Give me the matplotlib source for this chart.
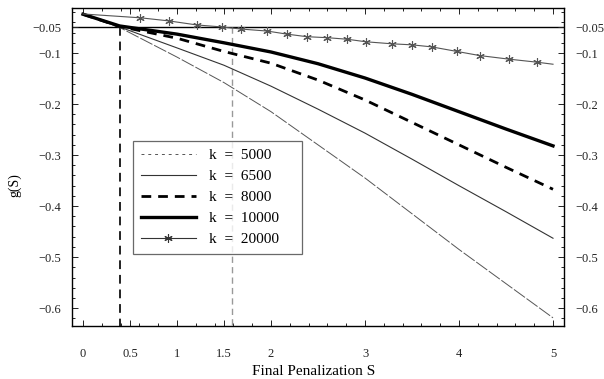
import matplotlib
matplotlib.use("Agg")
import matplotlib.pyplot as plt
from matplotlib.lines import Line2D
from matplotlib.ticker import MultipleLocator, FixedLocator

plt.rcParams['font.family'] = ['Liberation Serif', 'DejaVu Serif']

# data
S = [0, 0.39, 1, 1.5, 2, 2.5, 3, 3.5, 4, 4.5, 5]
g_5000 = [-0.024, -0.050, -0.108, -0.158, -0.215, -0.280, -0.345, -0.415, -0.485, -0.552, -0.619]
g_6500 = [-0.024, -0.049, -0.090, -0.124, -0.165, -0.210, -0.257, -0.308, -0.360, -0.411, -0.463]
g_8000 = [-0.024, -0.048, -0.071, -0.097, -0.120, -0.153, -0.192, -0.236, -0.280, -0.324, -0.367]
g_10000 = [-0.024, -0.047, -0.063, -0.080, -0.098, -0.121, -0.149, -0.181, -0.215, -0.249, -0.282]

S_20000 = [0, 0.61, 0.91, 1.21, 1.48, 1.68, 1.96, 2.17, 2.38, 2.60, 2.81, 3.01,
           3.29, 3.50, 3.71, 3.98, 4.22, 4.53, 4.83, 5.0]
g_20000 = [-0.0235, -0.031, -0.037, -0.045, -0.049, -0.053, -0.057, -0.063, -0.068, -0.070,
           -0.073, -0.078, -0.082, -0.084, -0.088, -0.097, -0.105, -0.112, -0.118, -0.122]

threshold = -0.05
s_low, s_high = 0.39, 1.58
labels = ["k  =  5000", "k  =  6500", "k  =  8000", "k  =  10000", "k  =  20000"]

fig = plt.figure(figsize=(6.04, 3.79), dpi=100)
ax = fig.add_axes([72 / 604, 53 / 379, 492 / 604, 318 / 379])

ax.axhline(threshold, color='black', lw=1.0, zorder=1)
ax.plot([s_low, s_low], [threshold, -0.7], color='#222222', lw=1.4, dashes=(4.5, 3))
ax.plot([s_high, s_high], [threshold, -0.7], color='#999999', lw=1.0, dashes=(4.5, 3))

ax.plot(S, g_5000, color='#555555', lw=0.7, dashes=(14, 2))
l2, = ax.plot(S, g_6500, color='#333333', lw=0.8)
l3, = ax.plot(S, g_8000, color='black', lw=2.0, dashes=(3.5, 2.5))
l4, = ax.plot(S, g_10000, color='black', lw=2.4)
ax.plot(S_20000, g_20000, color='#555555', lw=0.8, marker=(6, 2, 0),
        markersize=6, markeredgewidth=0.8, markevery=list(range(1, len(S_20000) - 1)))

h1 = Line2D([], [], color='#555555', lw=0.7, dashes=(3, 4))
h5 = Line2D([], [], color='#333333', lw=0.8, marker=(6, 2, 0), markersize=6,
            markeredgewidth=0.8)
leg = ax.legend([h1, l2, l3, l4, h5], labels, loc='lower left',
                bbox_to_anchor=(0.124, 0.226, 0.344, 0.349), mode='expand',
                fontsize=11, frameon=True, fancybox=False, handlelength=3.6,
                handletextpad=0.9, borderpad=0.5, labelspacing=0.48,
                borderaxespad=0, numpoints=1)
leg.get_frame().set_edgecolor('#444444')
leg.get_frame().set_linewidth(0.9)

ax.set_xlim(-0.117, 5.117)
ax.set_ylim(-0.635, -0.0118)

ax.xaxis.set_major_locator(FixedLocator([0, 0.5, 1, 1.5, 2, 3, 4, 5]))
ax.xaxis.set_minor_locator(MultipleLocator(0.2))
ax.set_xticklabels(['0', '0.5', '1', '1.5', '2', '3', '4', '5'])
yt = [-0.05, -0.1, -0.2, -0.3, -0.4, -0.5, -0.6]
ax.yaxis.set_major_locator(FixedLocator(yt))
ax.set_yticklabels(['\u22120.05', '\u22120.1', '\u22120.2', '\u22120.3', '\u22120.4', '\u22120.5', '\u22120.6'])
ax.yaxis.set_minor_locator(MultipleLocator(0.02))

ax.tick_params(axis='both', which='both', direction='in', top=True, right=True,
               labelright=True, colors='#222222', width=0.7)
ax.tick_params(axis='both', which='major', length=4, labelsize=9)
ax.tick_params(axis='both', which='minor', length=2)
ax.tick_params(axis='x', which='major', pad=16)
ax.tick_params(axis='y', which='major', pad=8)

for sp in ax.spines.values():
    sp.set_linewidth(1.0)

ax.set_xlabel('Final Penalization S', fontsize=11)
ax.xaxis.set_label_coords(0.492, -0.142)
ax.xaxis.label.set_va('center')
ax.set_ylabel('g(S)', fontsize=10)
ax.yaxis.set_label_coords(-0.116, 0.443)
ax.yaxis.label.set_va('center')

fig.savefig('out.png', dpi=100)
